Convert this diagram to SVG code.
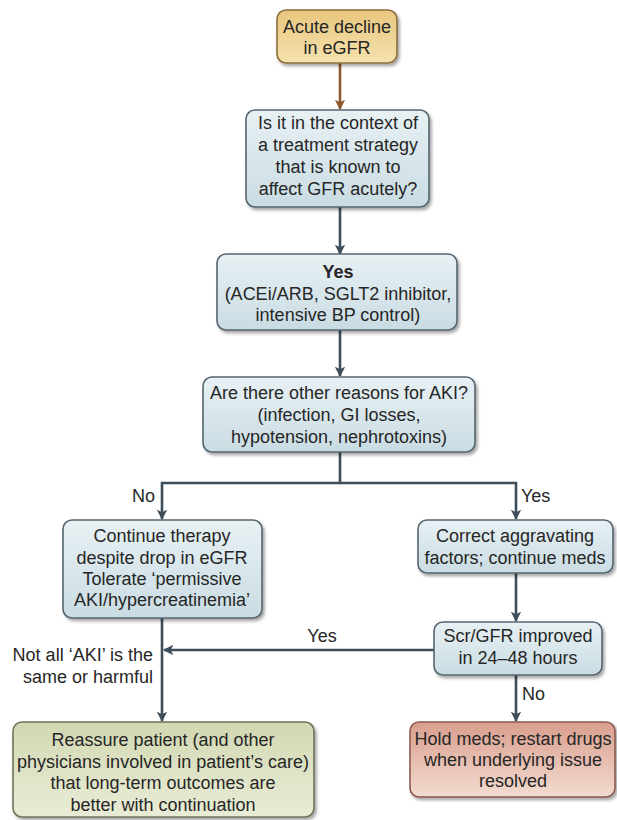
<svg xmlns="http://www.w3.org/2000/svg" width="617" height="820" viewBox="0 0 617 820">
<defs>
<style>
text{font-family:"Liberation Sans",Arial,sans-serif;font-size:18px;fill:#262626;text-anchor:middle}
.lbl{text-anchor:start}
.rt{text-anchor:end}
.b{font-weight:bold}
.blue{fill:url(#gBlue);stroke:#56656f;stroke-width:1.6}
.gold{fill:url(#gGold);stroke:#8d6d3c;stroke-width:1.6}
.green{fill:url(#gGreen);stroke:#6e7458;stroke-width:1.6}
.red{fill:url(#gRed);stroke:#8c5a50;stroke-width:1.6}
.box{filter:url(#sh)}
.ln{fill:none;stroke:#3e4d5a;stroke-width:2.6}
.lnb{fill:none;stroke:#8c5a2e;stroke-width:2.6}
</style>
<linearGradient id="gBlue" x1="0" y1="0" x2="0" y2="1"><stop offset="0" stop-color="#e8f1f4"/><stop offset="1" stop-color="#c9dce3"/></linearGradient>
<linearGradient id="gGold" x1="0" y1="0" x2="0" y2="1"><stop offset="0" stop-color="#e8c67e"/><stop offset="1" stop-color="#f5e2ae"/></linearGradient>
<linearGradient id="gGreen" x1="0" y1="0" x2="0" y2="1"><stop offset="0" stop-color="#d2d8b2"/><stop offset="1" stop-color="#e9ecd6"/></linearGradient>
<linearGradient id="gRed" x1="0" y1="0" x2="0" y2="1"><stop offset="0" stop-color="#d99e8d"/><stop offset="1" stop-color="#f3dbd0"/></linearGradient>
<filter id="sh" x="-10%" y="-10%" width="120%" height="130%"><feDropShadow dx="2" dy="2.5" stdDeviation="1.8" flood-color="#000" flood-opacity="0.35"/></filter>
<marker id="ah" viewBox="0 0 10 10" refX="9" refY="5" markerWidth="4" markerHeight="4" orient="auto" markerUnits="strokeWidth"><path d="M0,0 L10,5 L0,10 L2.5,5 z" fill="#3e4d5a"/></marker>
<marker id="ahb" viewBox="0 0 10 10" refX="9" refY="5" markerWidth="4" markerHeight="4" orient="auto" markerUnits="strokeWidth"><path d="M0,0 L10,5 L0,10 L2.5,5 z" fill="#8c5a2e"/></marker>
</defs>

<g id="connectors">
<line class="lnb" x1="340" y1="63" x2="340" y2="109" marker-end="url(#ahb)"/>
<line class="ln" x1="340" y1="207" x2="340" y2="254" marker-end="url(#ah)"/>
<line class="ln" x1="340" y1="330" x2="340" y2="376" marker-end="url(#ah)"/>
<polyline class="ln" points="340,452 340,483 162,483 162,519" marker-end="url(#ah)"/>
<polyline class="ln" points="340,483 516,483 516,519" marker-end="url(#ah)"/>
<line class="ln" x1="516" y1="573" x2="516" y2="621" marker-end="url(#ah)"/>
<line class="ln" x1="434" y1="650" x2="164" y2="650" marker-end="url(#ah)"/>
<line class="ln" x1="162" y1="618" x2="162" y2="721" marker-end="url(#ah)"/>
<line class="ln" x1="516" y1="675" x2="516" y2="721" marker-end="url(#ah)"/>
<text class="rt" x="155" y="502">No</text>
<text class="lbl" x="521" y="502">Yes</text>
<text x="322" y="642">Yes</text>
<text class="lbl" x="522" y="700">No</text>
<text class="rt" x="153" y="661">Not all ‘AKI’ is the</text>
<text class="rt" x="153" y="683">same or harmful</text>
</g>

<g id="n1">
<rect class="gold box" x="277" y="10" width="120" height="53" rx="9"/>
<text x="337" y="33">Acute decline</text>
<text x="337" y="54">in eGFR</text>
</g>

<g id="n2">
<rect class="blue box" x="246" y="110" width="183" height="97" rx="9"/>
<text x="338" y="129">Is it in the context of</text>
<text x="338" y="151">a treatment strategy</text>
<text x="338" y="173">that is known to</text>
<text x="338" y="195">affect GFR acutely?</text>
</g>

<g id="n3">
<rect class="blue box" x="217" y="254" width="240" height="76" rx="9"/>
<text class="b" x="338" y="278">Yes</text>
<text x="338" y="300">(ACEi/ARB, SGLT2 inhibitor,</text>
<text x="338" y="321">intensive BP control)</text>
</g>

<g id="n4">
<rect class="blue box" x="203" y="377" width="272" height="75" rx="9"/>
<text x="339" y="399">Are there other reasons for AKI?</text>
<text x="339" y="421">(infection, GI losses,</text>
<text x="339" y="443">hypotension, nephrotoxins)</text>
</g>

<g id="n5">
<rect class="blue box" x="63" y="520" width="199" height="98" rx="9"/>
<text x="162" y="542">Continue therapy</text>
<text x="162" y="564">despite drop in eGFR</text>
<text x="162" y="585">Tolerate ‘permissive</text>
<text x="162" y="606">AKI/hypercreatinemia’</text>
</g>

<g id="n6">
<rect class="blue box" x="418" y="520" width="195" height="53" rx="9"/>
<text x="515" y="542">Correct aggravating</text>
<text x="515" y="564">factors; continue meds</text>
</g>

<g id="n7">
<rect class="blue box" x="434" y="622" width="168" height="53" rx="9"/>
<text x="518" y="642">Scr/GFR improved</text>
<text x="518" y="664">in 24–48 hours</text>
</g>

<g id="n8">
<rect class="green box" x="13" y="722" width="301" height="95" rx="9"/>
<text x="163" y="746">Reassure patient (and other</text>
<text x="163" y="768">physicians involved in patient’s care)</text>
<text x="163" y="789">that long-term outcomes are</text>
<text x="163" y="811">better with continuation</text>
</g>

<g id="n9">
<rect class="red box" x="410" y="722" width="205" height="75" rx="9"/>
<text x="513" y="745">Hold meds; restart drugs</text>
<text x="513" y="766">when underlying issue</text>
<text x="513" y="787">resolved</text>
</g>
</svg>
